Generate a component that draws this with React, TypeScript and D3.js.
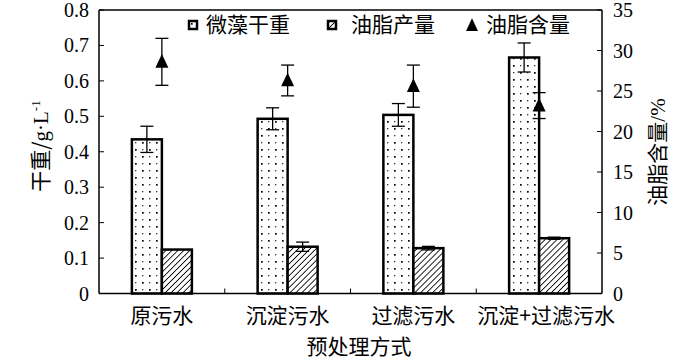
import React from "react";
import * as d3 from "d3";

const categories = ["原污水", "沉淀污水", "过滤污水", "沉淀+过滤污水"];
const dryWeight = [0.435, 0.493, 0.504, 0.666];
const dryWeightErr = [0.037, 0.031, 0.032, 0.041];
const oilYield = [0.124, 0.132, 0.128, 0.156];
const oilYieldErr = [0.0, 0.013, 0.005, 0.003];
const oilContent = [28.6, 26.3, 25.6, 23.2];
const oilContentErr = [2.9, 1.9, 2.6, 1.6];
const leftTicks = [0, 0.1, 0.2, 0.3, 0.4, 0.5, 0.6, 0.7, 0.8];
const rightTicks = [0, 5, 10, 15, 20, 25, 30, 35];
const legendLabels = ["微藻干重", "油脂产量", "油脂含量"];

const W = 700, H = 360;
const L = 99, R = 602, T = 10, B = 293.5;
const serif = "'Liberation Serif', 'DejaVu Serif', serif";
const cjk = "'Noto Sans CJK SC', sans-serif";

export default function App() {
  const x = d3.scaleBand<string>().domain(categories).range([L, R]).padding(0);
  const yL = d3.scaleLinear().domain([0, 0.8]).range([B, T]);
  const yR = d3.scaleLinear().domain([0, 35]).range([B, T]);
  const bw = 30;
  const cap = 6.5;
  const tri = (cx: number, cy: number, s: number) =>
    `M${cx},${cy - s * 0.6} L${cx + s / 2},${cy + s * 0.45} L${cx - s / 2},${cy + s * 0.45} Z`;

  return (
    <svg width={W} height={H} style={{ display: "block", position: "absolute", left: 0, top: 0 }}>
      <defs>
        <pattern id="dots" width="14" height="14" patternUnits="userSpaceOnUse" x="0" y="0">
          <rect width="14" height="14" fill="white" />
          <rect x="2" y="2" width="1.7" height="1.7" fill="black" />
          <rect x="9" y="9" width="1.7" height="1.7" fill="black" />
          <rect x="9" y="2" width="1.3" height="1.3" fill="#333" />
          <rect x="2" y="9" width="1.3" height="1.3" fill="#333" />
        </pattern>
        <pattern id="hatch" width="4.2" height="4.2" patternUnits="userSpaceOnUse" patternTransform="rotate(45)">
          <rect width="4.2" height="4.2" fill="white" />
          <line x1="0" y1="0" x2="0" y2="4.2" stroke="black" strokeWidth="1.7" />
        </pattern>
      </defs>
      <rect width={W} height={H} fill="white" />

      {categories.map((c, i) => {
        const cx = x(c)! + x.bandwidth() / 2;
        const y1 = yL(dryWeight[i]);
        const y2 = yL(oilYield[i]);
        return (
          <g key={c}>
            <rect x={cx - bw} y={y1} width={bw} height={B - y1} fill="url(#dots)" stroke="black" strokeWidth={2.5} />
            <rect x={cx} y={y2} width={bw} height={B - y2} fill="url(#hatch)" stroke="black" strokeWidth={2.5} />
          </g>
        );
      })}

      {categories.map((c, i) => {
        const cx = x(c)! + x.bandwidth() / 2;
        const ex1 = cx - bw / 2;
        const ex2 = cx + bw / 2;
        const a = yL(dryWeight[i] + dryWeightErr[i]);
        const b = yL(dryWeight[i] - dryWeightErr[i]);
        const a2 = yL(oilYield[i] + oilYieldErr[i]);
        const b2 = yL(oilYield[i] - oilYieldErr[i]);
        return (
          <g key={"e" + c} stroke="black" strokeWidth={1.3}>
            <line x1={ex1} x2={ex1} y1={a} y2={b} />
            <line x1={ex1 - cap} x2={ex1 + cap} y1={a} y2={a} />
            <line x1={ex1 - cap} x2={ex1 + cap} y1={b} y2={b} />
            {oilYieldErr[i] > 0 && (
              <g>
                <line x1={ex2} x2={ex2} y1={a2} y2={b2} />
                <line x1={ex2 - cap} x2={ex2 + cap} y1={a2} y2={a2} />
                <line x1={ex2 - cap} x2={ex2 + cap} y1={b2} y2={b2} />
              </g>
            )}
          </g>
        );
      })}

      {categories.map((c, i) => {
        const cx = x(c)! + x.bandwidth() / 2;
        const cy = yR(oilContent[i]);
        const a = yR(oilContent[i] + oilContentErr[i]);
        const b = yR(oilContent[i] - oilContentErr[i]);
        return (
          <g key={"t" + c}>
            <g stroke="black" strokeWidth={1.3}>
              <line x1={cx} x2={cx} y1={a} y2={b} />
              <line x1={cx - cap} x2={cx + cap} y1={a} y2={a} />
              <line x1={cx - cap} x2={cx + cap} y1={b} y2={b} />
            </g>
            <path d={tri(cx, cy, 13)} fill="black" />
          </g>
        );
      })}

      <g stroke="black" strokeWidth={1.5} fill="none">
        <line x1={L} x2={L} y1={T} y2={B} />
        <line x1={R} x2={R} y1={T} y2={B} />
        <line x1={L} x2={R} y1={T} y2={T} />
        <line x1={L} x2={R} y1={B} y2={B} />
      </g>
      {leftTicks.map((t) => (
        <g key={"l" + t}>
          <line x1={L} x2={L + 5} y1={yL(t)} y2={yL(t)} stroke="black" strokeWidth={1} />
          <text x={89} y={yL(t)} dy="0.35em" textAnchor="end" fontFamily={serif} fontSize={20}>
            {t === 0 ? "0" : t.toFixed(1)}
          </text>
        </g>
      ))}
      {rightTicks.map((t) => (
        <g key={"r" + t}>
          <line x1={R - 5} x2={R} y1={yR(t)} y2={yR(t)} stroke="black" strokeWidth={1} />
          <text x={613} y={yR(t)} dy="0.35em" textAnchor="start" fontFamily={serif} fontSize={20}>
            {t}
          </text>
        </g>
      ))}
      {categories.slice(1).map((c) => (
        <line key={"b" + c} x1={x(c)!} x2={x(c)!} y1={B} y2={B - 5} stroke="black" strokeWidth={1} />
      ))}
      {categories.map((c) => (
        <text key={"c" + c} x={x(c)! + x.bandwidth() / 2 + (c.length > 5 ? 7 : 0)} y={316} dy="0.35em" textAnchor="middle" fontFamily={cjk} fontSize={21}>
          {c}
        </text>
      ))}
      <text x={359} y={347} dy="0.35em" textAnchor="middle" fontFamily={cjk} fontSize={21}>预处理方式</text>
      <text transform="translate(41,146) rotate(-90)" dy="0.35em" textAnchor="middle" fontFamily={cjk} fontSize={21}>
        干重/<tspan fontFamily={serif}>g·L</tspan><tspan fontFamily={serif} fontSize={13} dy="-8">-1</tspan>
      </text>
      <text transform="translate(658,152) rotate(-90)" dy="0.35em" textAnchor="middle" fontFamily={cjk} fontSize={21}>
        油脂含量<tspan fontFamily={serif}>/%</tspan>
      </text>

      <g>
        <rect x={189} y={21} width={8} height={8} fill="url(#dots)" stroke="black" strokeWidth={2.5} />
        <text x={206} y={25} dy="0.35em" fontFamily={cjk} fontSize={21}>{legendLabels[0]}</text>
        <rect x={328} y={21} width={8} height={8} fill="url(#hatch)" stroke="black" strokeWidth={2.5} />
        <text x={351} y={25} dy="0.35em" fontFamily={cjk} fontSize={21}>{legendLabels[1]}</text>
        <path d={tri(472, 25.5, 12)} fill="black" />
        <text x={486} y={25} dy="0.35em" fontFamily={cjk} fontSize={21}>{legendLabels[2]}</text>
      </g>
    </svg>
  );
}
